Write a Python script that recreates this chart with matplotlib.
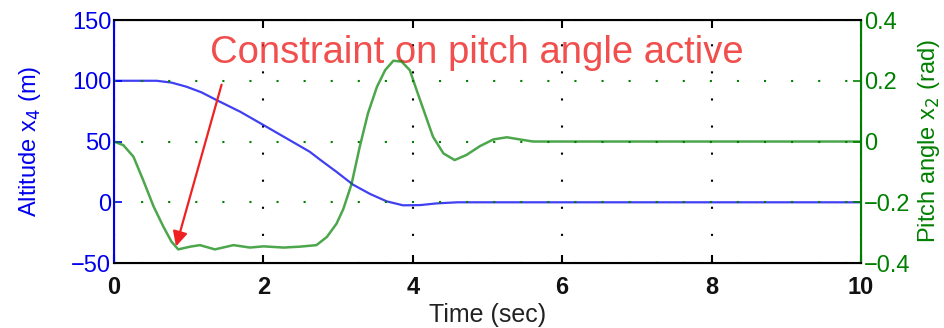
import numpy as np
import matplotlib.pyplot as plt

plt.rcParams['font.family'] = ['Liberation Sans', 'DejaVu Sans']

# altitude response (m)
t_alt = [0, 0.3, 0.57, 0.77, 0.97, 1.17, 1.37, 1.69, 2.0, 2.31, 2.62, 2.76, 2.98, 3.2, 3.43, 3.65, 3.87, 4.1,
         4.32, 4.6, 5.0, 6, 8, 10]
altitude = [100, 100, 100, 98.5, 95.1, 90.5, 84.2, 74.5, 63.6, 52.6, 41.6, 35, 25, 14.5, 6.8, 0.8, -2.5, -2.3,
            -0.9, 0, 0, 0, 0, 0]

# pitch angle response (rad)
t_pitch = [0, 0.125, 0.26, 0.39, 0.53, 0.66, 0.77, 0.86, 1.02, 1.15, 1.35, 1.6, 1.82, 2.0, 2.27, 2.49, 2.71,
           2.85, 2.98, 3.07, 3.18, 3.29, 3.4, 3.52, 3.63, 3.74, 3.85, 3.96, 4.05, 4.16, 4.27, 4.41, 4.56, 4.72,
           4.9, 5.08, 5.26, 5.43, 5.61, 6, 8, 10]
pitch = [0, -0.012, -0.05, -0.127, -0.214, -0.28, -0.33, -0.355, -0.346, -0.341, -0.355, -0.341, -0.349, -0.345,
         -0.349, -0.346, -0.341, -0.314, -0.27, -0.222, -0.14, -0.017, 0.093, 0.18, 0.235, 0.266, 0.263, 0.235,
         0.17, 0.093, 0.016, -0.039, -0.061, -0.044, -0.015, 0.007, 0.014, 0.007, 0.0, 0, 0, 0]

x_ticks = [0, 2, 4, 6, 8, 10]
alt_ticks = [-50, 0, 50, 100, 150]
alt_labels = ['\u221250', '0', '50', '100', '150']
pitch_ticks = [-0.4, -0.2, 0, 0.2, 0.4]
pitch_labels = ['\u22120.4', '\u22120.2', '0', '0.2', '0.4']

blue = '#0000ee'
green = '#008000'
red = '#ee2222'
dots = (0, (1, 12))

fig = plt.figure(figsize=(9.44, 3.28), dpi=100)
ax = fig.add_axes([0.1208, 0.198, 0.7912, 0.741])
ax2 = ax.twinx()

ax.plot(t_alt, altitude, color=blue, lw=1.6, alpha=0.75, solid_capstyle='round')
ax2.plot(t_pitch, pitch, color=green, lw=1.8, alpha=0.7, solid_joinstyle='round')

ax.set_xlim(0, 10)
ax.set_ylim(-50, 150)
ax2.set_ylim(-0.4, 0.4)
ax.set_xticks(x_ticks)
ax.set_yticks(alt_ticks)
ax.set_yticklabels(alt_labels)
ax2.set_yticks(pitch_ticks)
ax2.set_yticklabels(pitch_labels)
for lbl in ax.get_xticklabels():
    lbl.set_fontweight('bold')

ax.grid(axis='x', color='black', linestyle=dots, lw=1.5)
ax2.grid(axis='y', color=green, linestyle=dots, lw=1.5)

ax.tick_params(axis='x', direction='in', length=6, width=1.5, labelsize=17, pad=9, top=True, labelcolor='#111111')
ax.tick_params(axis='y', direction='in', length=6, width=1.2, colors=blue, labelsize=17, pad=2)
ax2.tick_params(axis='y', direction='in', length=6, width=1.2, colors=green, labelsize=17, pad=2)

for s in ['top', 'bottom']:
    ax2.spines[s].set_linewidth(1.5)
ax2.spines['left'].set_color(blue)
ax2.spines['left'].set_linewidth(1.5)
ax2.spines['right'].set_color(green)
ax2.spines['right'].set_linewidth(1.5)

ax.set_xlabel('Time (sec)', fontsize=18, labelpad=3, color='#222222')
ax.set_ylabel('Altitude x$_4$ (m)', color=blue, fontsize=17, labelpad=20)
ax2.set_ylabel('Pitch angle x$_2$ (rad)', color=green, fontsize=17, labelpad=4)

ax.text(1.28, 123, 'Constraint on pitch angle active', color=red, fontsize=27.5, alpha=0.8,
        va='center', ha='left')
ax.annotate('', xy=(0.82, -38.5), xytext=(1.45, 99),
            arrowprops=dict(arrowstyle='-|>', color=red, lw=1.6, mutation_scale=22))

fig.savefig('out.png', dpi=100)
